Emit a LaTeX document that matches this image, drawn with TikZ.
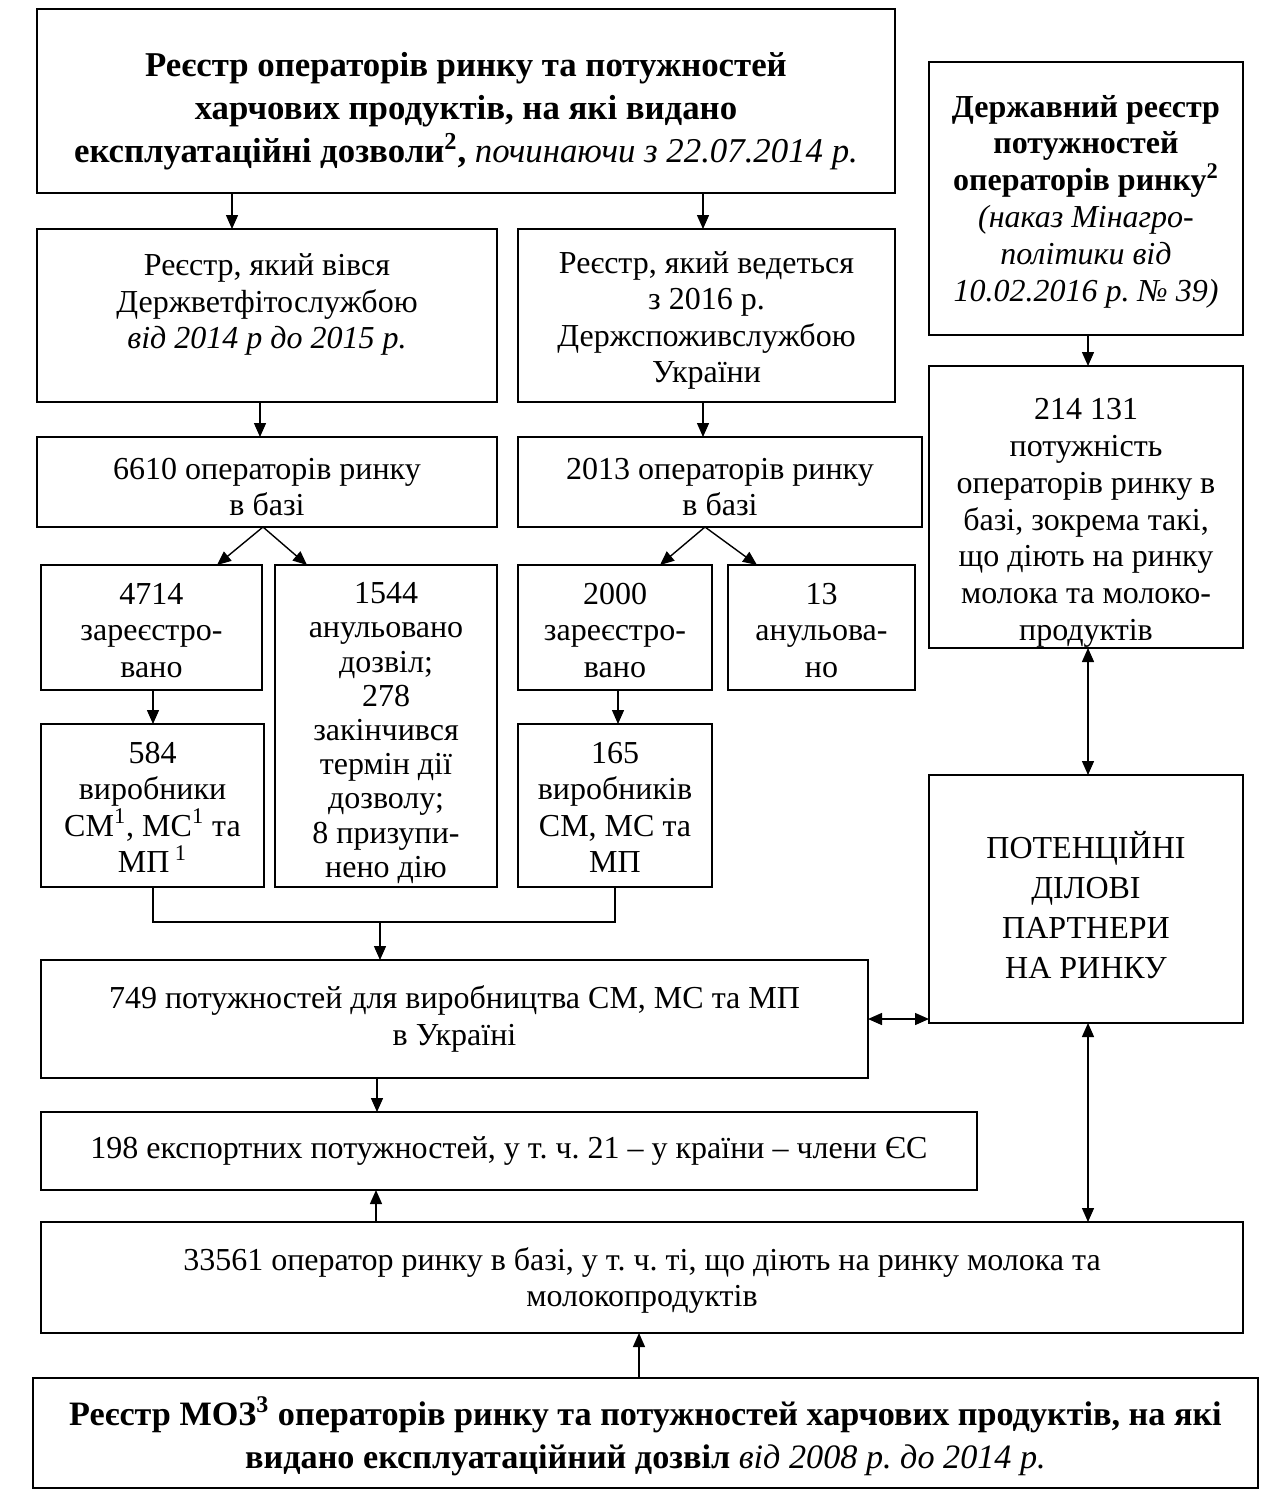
\documentclass[tikz,border=0pt]{standalone}
\usepackage{fontspec}
\setmainfont{Liberation Serif}
\usetikzlibrary{arrows.meta,calc}
\frenchspacing
\newcommand\regtext{\fontsize{16}{18.25}\selectfont}
\newcommand\boldtitle{\fontsize{17.4}{21.5}\selectfont\bfseries}
% framed box from top-left (#3,#4) to bottom-right (#5,#6); its text is moved down by #7
\newcommand\bx[8][]{%
  \node[frame,anchor=north west,minimum width={(#5-#3)*0.5pt},minimum height={(#6-#4)*0.5pt}] (#2) at (#3,#4) {};
  \node[txt,#1] (#2-t) at ($(#2.center)+(0,#7)$) {#8};}
\begin{document}
\frenchspacing
\begin{tikzpicture}[x=0.5pt,y=-0.5pt,
  frame/.style={draw,line width=1pt,inner sep=0pt,outer sep=0pt},
  txt/.style={inner sep=0pt,align=center,font=\regtext},
  arr/.style={-{Triangle[length=7pt,width=6pt]},line width=0.7pt},
  darr/.style={{Triangle[length=7pt,width=6pt]}-{Triangle[length=7pt,width=6pt]},line width=0.7pt}]
\fill[white] (0,0) rectangle (1264,1490);
\useasboundingbox (0,0) rectangle (1264,1490);

% boxes
\bx[font=\boldtitle]{top}{37}{9}{895}{193}{10}{Реєстр операторів ринку та потужностей\\харчових продуктів, на які видано\\експлуатаційні дозволи\textsuperscript{2}, {\mdseries\itshape починаючи з 22.07.2014 р.}}
\bx{reg1}{37}{229}{497}{402}{-11}{Реєстр, який вівся\\Держветфітослужбою\\\textit{від 2014 р до 2015 р.}}
\bx{reg2}{518}{229}{895}{402}{5}{Реєстр, який ведеться\\з 2016 р.\\Держспоживслужбою\\України}
\bx[font=\fontsize{16}{18.4}\selectfont]{dr}{929}{62}{1243}{335}{3}{\bfseries Державний реєстр\\\bfseries потужностей\\\bfseries операторів ринку\textsuperscript{2}\\\textit{(наказ Мінагро-}\\\textit{політики від}\\\textit{10.02.2016 р. № 39)}}
\bx[font=\fontsize{16}{18.4}\selectfont]{pot}{929}{366}{1243}{648}{16}{214 131\\потужність\\операторів ринку в\\базі, зокрема такі,\\що діють на ринку\\молока та молоко-\\продуктів}
\bx{o1}{37}{437}{497}{527}{5}{6610 операторів ринку\\в базі}
\bx{o2}{518}{437}{922}{527}{5}{2013 операторів ринку\\в базі}
\bx{r1}{41}{565}{262}{690}{3}{4714\\зареєстро-\\вано}
\bx[font=\fontsize{16}{17.1}\selectfont]{a1}{275}{565}{497}{887}{7}{1544\\анульовано\\дозвіл;\\278\\закінчився\\термін дії\\дозволу;\\8 призупи-\\нено дію}
\bx{r2}{518}{565}{712}{690}{3}{2000\\зареєстро-\\вано}
\bx{a2}{728}{565}{915}{690}{3}{13\\анульова-\\но}
\bx{m1}{41}{724}{264}{887}{2}{584\\виробники\\СМ\textsuperscript{1}, МС\textsuperscript{1} та\\МП\,\textsuperscript{1}}
\bx{m2}{518}{724}{712}{887}{2}{165\\виробників\\СМ, МС та\\МП}
\bx{cap}{41}{960}{868}{1078}{0}{749 потужностей для виробництва СМ, МС та МП\\в Україні}
\bx[font=\fontsize{16}{20}\selectfont]{part}{929}{775}{1243}{1023}{6}{ПОТЕНЦІЙНІ\\ДІЛОВІ\\ПАРТНЕРИ\\НА РИНКУ}
\bx{exp}{41}{1112}{977}{1190}{0}{198 експортних потужностей, у т. ч. 21 – у країни – члени ЄС}
\bx{ops}{41}{1222}{1243}{1333}{3}{33561 оператор ринку в базі, у т. ч. ті, що діють на ринку молока та\\молокопродуктів}
\bx[font=\fontsize{17.1}{21.5}\selectfont\bfseries]{moz}{33}{1378}{1258}{1488}{3}{Реєстр МОЗ\textsuperscript{3} операторів ринку та потужностей харчових продуктів, на які\\видано експлуатаційний дозвіл {\mdseries\itshape від 2008 р. до 2014 р.}}

% positions of the connectors
\coordinate (xa) at (232,0);
\coordinate (xb) at (703,0);
\coordinate (xc) at (260,0);
\coordinate (xr) at (1088,0);
\coordinate (xp) at (263,0);
\coordinate (xpl) at (217,0);
\coordinate (xpr) at (307,0);
\coordinate (xq) at (705,0);
\coordinate (xql) at (660,0);
\coordinate (xqr) at (757,0);
\coordinate (xm1) at (153,0);
\coordinate (xm2) at (618,0);
\coordinate (xj) at (380,0);
\coordinate (xe) at (377,0);
\coordinate (xo) at (376,0);
\coordinate (xz) at (639,0);
\coordinate (yj) at (0,922);
\coordinate (yh) at (0,1019);

% connectors
\draw[arr] (top.south -| xa) -- (reg1.north -| xa);
\draw[arr] (top.south -| xb) -- (reg2.north -| xb);
\draw[arr] (reg1.south -| xc) -- (o1.north -| xc);
\draw[arr] (reg2.south -| xb) -- (o2.north -| xb);
\draw[arr] (dr.south -| xr) -- (pot.north -| xr);
\draw[arr] (o1.south -| xp) -- (r1.north -| xpl);
\draw[arr] (o1.south -| xp) -- (a1.north -| xpr);
\draw[arr] (o2.south -| xq) -- (r2.north -| xql);
\draw[arr] (o2.south -| xq) -- (a2.north -| xqr);
\draw[arr] (r1.south -| xm1) -- (m1.north -| xm1);
\draw[arr] (r2.south -| xm2) -- (m2.north -| xm2);
\draw[line width=0.7pt] (m1.south -| xm1) -- (xm1 |- yj) -- (m2.south |- yj) -- (m2.south);
\draw[arr] (xj |- yj) -- (cap.north -| xj);
\draw[arr] (cap.south -| xe) -- (exp.north -| xe);
\draw[arr] (ops.north -| xo) -- (exp.south -| xo);
\draw[darr] (pot.south -| xr) -- (part.north -| xr);
\draw[darr] (cap.east |- yh) -- (part.west |- yh);
\draw[darr] (part.south -| xr) -- (ops.north -| xr);
\draw[arr] (moz.north -| xz) -- (ops.south -| xz);
\end{tikzpicture}
\end{document}
